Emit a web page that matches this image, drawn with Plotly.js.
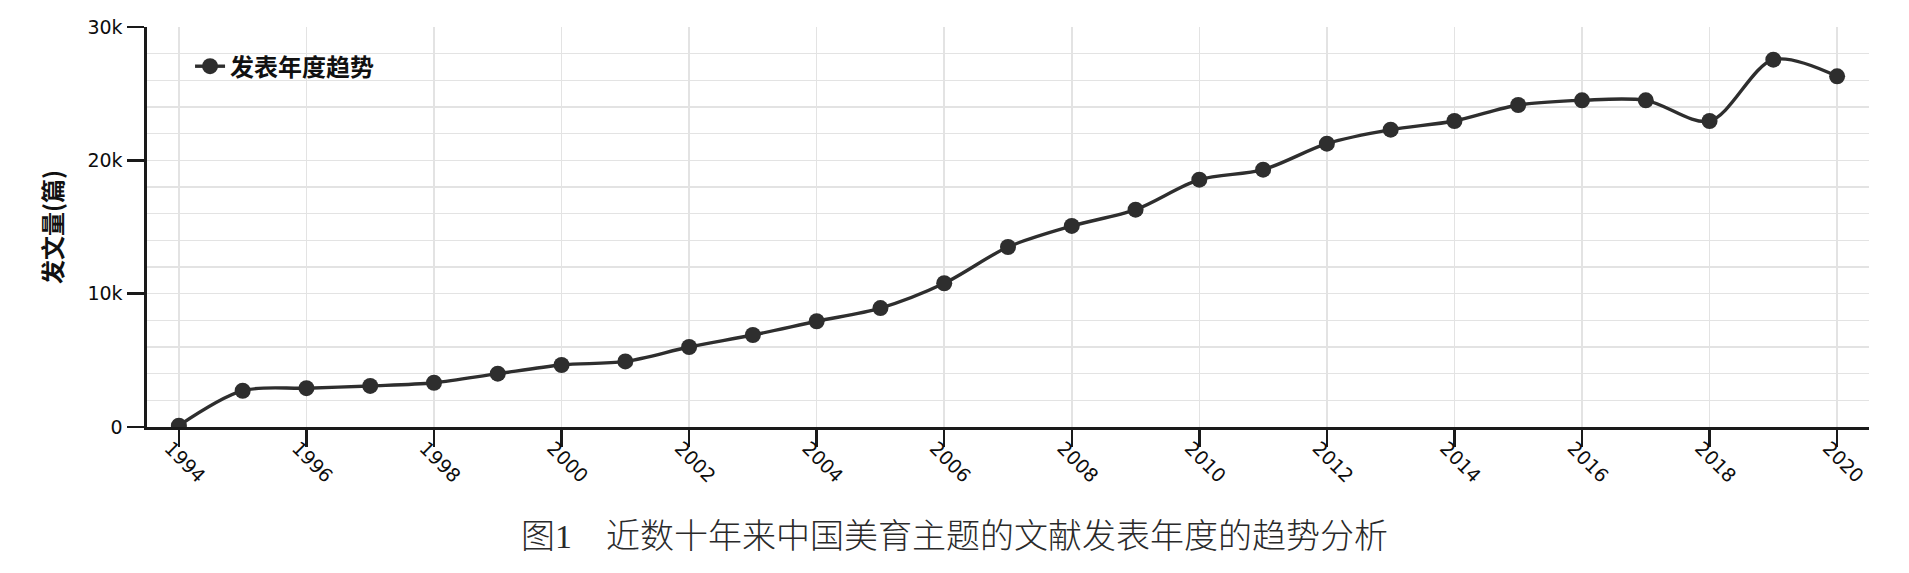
<!DOCTYPE html>
<html>
<head>
<meta charset="utf-8">
<script src="https://cdn.plot.ly/plotly-3.0.1.min.js"></script>
<style>
html,body{margin:0;padding:0;background:#fff;}
#chart{width:1909px;height:573px;}
</style>
</head>
<body>
<div id="chart"></div>
<script>
// Data
const years = [1994,1995,1996,1997,1998,1999,2000,2001,2002,2003,2004,2005,2006,2007,2008,2009,2010,2011,2012,2013,2014,2015,2016,2017,2018,2019,2020];
const counts = [100,2720,2910,3080,3320,4000,4650,4920,6000,6900,7930,8920,10780,13500,15080,16300,18550,19300,21250,22300,22950,24150,24500,24500,22950,27550,26300];
const seriesName = '发表年度趋势';
const xTickVals = [1994,1996,1998,2000,2002,2004,2006,2008,2010,2012,2014,2016,2018,2020];
const yTickVals = [0,10000,20000,30000];
const yTickText = ['0','10k','20k','30k'];
const yAxisTitle = '发文量(篇)';
const caption = '图1　近数十年来中国美育主题的文献发表年度的趋势分析';

const dark = '#2e2e2e';
const gridColor = '#e3e3e3';
const tickFont = {family: '"DejaVu Sans", "Open Sans", sans-serif', size: 19, color: '#0d0d0d'};

const trace = {
  x: years,
  y: counts,
  type: 'scatter',
  mode: 'lines+markers',
  name: seriesName,
  line: {color: dark, width: 3.4, shape: 'spline', smoothing: 0.9},
  marker: {color: dark, size: 16, symbol: 'circle'},
  showlegend: true,
  hoverinfo: 'skip'
};

const layout = {
  width: 1909,
  height: 573,
  margin: {l: 147, r: 40, t: 27, b: 146, pad: 0},
  paper_bgcolor: '#ffffff',
  plot_bgcolor: '#ffffff',
  showlegend: true,
  legend: {
    x: 0.025, y: 0.901, xanchor: 'left', yanchor: 'middle',
    bgcolor: 'rgba(0,0,0,0)',
    font: {family: '"Noto Sans CJK SC", sans-serif', size: 24, color: '#111111', weight: 'bold'},
    itemwidth: 30
  },
  title: {
    text: caption,
    x: 0.5, xref: 'container', xanchor: 'center',
    y: 1 - 536/573, yref: 'container', yanchor: 'middle',
    font: {family: '"Liberation Serif", "Noto Sans CJK SC", serif', size: 34, color: '#2a2a2a', weight: 300}
  },
  xaxis: {
    range: [1993.5, 2020.5],
    tickvals: xTickVals,
    ticktext: xTickVals.map(String),
    tickangle: 45,
    tickfont: tickFont,
    ticklabelstandoff: -17,
    ticklabelshift: -9,
    showline: true, linecolor: '#1a1a1a', linewidth: 2.6,
    ticks: 'outside', ticklen: 17, tickwidth: 2.4, tickcolor: '#1a1a1a',
    showgrid: true, gridcolor: gridColor, gridwidth: 1.6,
    zeroline: false, fixedrange: true
  },
  yaxis: {
    range: [0, 30000],
    tickvals: yTickVals,
    ticktext: yTickText,
    tickfont: tickFont,
    showline: true, linecolor: '#1a1a1a', linewidth: 2.6,
    ticks: 'outside', ticklen: 17, tickwidth: 2.4, tickcolor: '#1a1a1a',
    ticklabelstandoff: 1,
    showgrid: true, gridcolor: gridColor, gridwidth: 1.6,
    minor: {dtick: 2000, showgrid: true, gridcolor: gridColor, gridwidth: 1.6, ticks: ''},
    zeroline: false, fixedrange: true,
    title: {
      text: yAxisTitle,
      standoff: 18,
      font: {family: '"Noto Sans CJK SC", sans-serif', size: 24, color: '#111111', weight: 'bold'}
    }
  },
  hovermode: false
};

Plotly.newPlot('chart', [trace], layout, {displayModeBar: false, staticPlot: true});
</script>
</body>
</html>
